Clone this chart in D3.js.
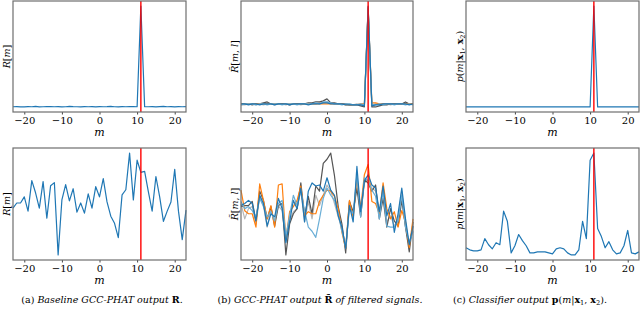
<!DOCTYPE html>
<html>
<head>
<meta charset="utf-8">
<script src="https://cdn.jsdelivr.net/npm/d3@7"></script>
<style>
body { margin: 0; background: #fff; }
svg { display: block; }
</style>
</head>
<body>
<div id="chart"></div>
<script>
'use strict';

// lag axis (samples)
var lags = [-23, -22, -21, -20, -19, -18, -17, -16, -15, -14, -13, -12, -11, -10, -9, -8,
    -7, -6, -5, -4, -3, -2, -1, 0, 1, 2, 3, 4, 5, 6, 7, 8, 9, 10, 11, 12, 13, 14, 15, 16,
    17, 18, 19, 20, 21, 22, 23];
var xTicks = [-20, -10, 0, 10, 20];
var trueLag = 11;

// (a) baseline GCC-PHAT, clean and noisy
var baseClean = [.010, .012, .008, .009, .011, .010, .013, .009, .010, .012, .011, .010, .012,
    .009, .010, .013, .011, .010, .009, .012, .010, .011, .009, .012, .010, .011, .013, .010,
    .009, .011, .010, .012, .011, .010, 1.0, .011, .010, .012, .009, .011, .013, .010, .012,
    .009, .011, .010, .011];
var baseNoisy = [.46, .51, .51, .57, .43, .73, .61, .46, .72, .36, .68, .71, .00, .54, .69,
    .53, .65, .42, .51, .41, .60, .46, .67, .57, .75, .52, .38, .31, .17, .59, .64, 1.00, .54,
    .93, .81, .82, .62, .43, .77, .57, .33, .43, .52, .84, .43, .15, .44];

// (b) GCC-PHAT of filtered signals, clean
var filtCleanA = [.03, .03, .02, .03, .03, .02, .03, .03, .03, .02, .03, .03, .03, .02, .03,
    .03, .03, .03, .02, .03, .03, .03, .04, .04, .03, .03, .03, .03, .02, .02, .02, .02, .02,
    .01, 1.0, .01, .02, .02, .03, .03, .03, .03, .03, .03, .03, .02, .03];
var filtCleanB = [.02, .03, .03, .03, .02, .03, .03, .02, .03, .03, .03, .02, .03, .03, .03,
    .02, .03, .03, .03, .03, .04, .03, .05, .05, .04, .03, .03, .02, .03, .03, .02, .02, .03,
    .02, .99, .02, .02, .03, .02, .03, .03, .02, .03, .03, .02, .03, .02];
var filtCleanC = [.03, .03, .03, .03, .03, .03, .03, .03, .03, .03, .03, .03, .03, .03, .03,
    .03, .03, .03, .03, .03, .03, .03, .03, .03, .03, .03, .03, .03, .02, .02, .02, .02, .03,
    .03, .98, .04, .04, .03, .03, .03, .03, .03, .03, .03, .03, .03, .03];
var filtCleanD = [.03, .03, .03, .02, .03, .03, .04, .05, .03, .03, .03, .03, .03, .02, .03,
    .03, .03, .03, .04, .04, .05, .05, .06, .08, .04, .04, .03, .03, .03, .02, .02, .02, .01,
    .00, .97, .00, .00, .01, .02, .02, .03, .03, .03, .03, .05, .03, .03];
var filtCleanE = [.02, .02, .03, .03, .02, .03, .02, .03, .03, .02, .03, .03, .02, .03, .03,
    .03, .02, .03, .03, .03, .03, .04, .04, .05, .04, .03, .03, .03, .03, .03, .02, .03, .02,
    .02, .99, .02, .03, .02, .03, .03, .02, .03, .03, .03, .04, .03, .03];

// (b) GCC-PHAT of filtered signals, noisy
var filtNoisyA = [.48, .50, .53, .50, .33, .58, .50, .28, .40, .37, .55, .45, .12, .32, .53,
    .45, .65, .32, .62, .70, .67, .68, .62, .75, .63, .58, .38, .27, .06, .48, .32, .86, .42,
    .72, .78, .68, .65, .42, .67, .38, .50, .22, .40, .65, .35, .10, .28];
var filtNoisyB = [.52, .45, .47, .43, .37, .55, .47, .37, .42, .33, .50, .53, .18, .38, .58,
    .48, .62, .43, .27, .23, .17, .35, .55, .65, .58, .53, .40, .23, .08, .45, .40, .78, .37,
    .75, .72, .63, .57, .35, .62, .28, .27, .27, .33, .58, .27, .12, .23];
var filtNoisyC = [.63, .43, .40, .40, .27, .69, .53, .35, .48, .27, .68, .69, .15, .42, .47,
    .53, .67, .38, .42, .40, .40, .52, .58, .63, .62, .57, .45, .22, .06, .53, .37, .75, .45,
    .78, .88, .52, .50, .40, .70, .45, .35, .42, .27, .43, .32, .07, .35];
var filtNoisyD = [.47, .48, .48, .52, .33, .62, .53, .35, .47, .28, .48, .50, .00, .30, .40,
    .45, .70, .37, .57, .40, .67, .62, .89, .93, .99, .77, .47, .30, .02, .52, .42, .65, .37,
    .73, .70, .62, .68, .35, .55, .27, .45, .33, .28, .53, .27, .03, .32];
var filtNoisyE = [.50, .35, .45, .47, .30, .57, .48, .27, .45, .32, .48, .43, .13, .33, .42,
    .45, .63, .32, .52, .35, .58, .48, .58, .68, .62, .50, .37, .25, .07, .52, .35, .72, .38,
    .70, .73, .65, .62, .40, .63, .32, .38, .28, .35, .62, .27, .10, .28];

// (c) classifier posterior, clean and noisy
var probClean = [0, 0, 0, 0, 0, 0, 0, 0, 0, 0, 0, 0, 0, 0, 0, 0, 0, 0, 0, 0, 0, 0, 0, 0, 0,
    0, 0, 0, 0, 0, 0, 0, 0, 0, 1.0, 0, 0, 0, 0, 0, 0, 0, 0, 0, 0, 0, 0];
var probNoisy = [.07, .05, .04, .04, .05, .16, .10, .06, .12, .10, .43, .33, .02, .09, .20,
    .14, .09, .02, .02, .03, .03, .03, .02, .01, .06, .07, .06, .02, .00, .00, .05, .33, .16,
    .93, 1.00, .26, .18, .07, .13, .05, .01, .02, .09, .24, .02, .01, .03];

var blue = '#1f77b4', lightBlue = '#6aaed6', orange = '#ff7f0e',
    darkGray = '#555555', lightGray = '#b8b8b8';

var labelR = [['R', 'i'], ['[', ''], ['m', 'i'], [']', '']];
var labelRt = [['R\u0303', 'i'], ['[', ''], ['m', 'i'], [', ', ''], ['l', 'i'], [']', '']];
var labelP = [['p', 'i'], ['(', ''], ['m', 'i'], ['|', ''], ['x', 'b'], ['1', 's'],
    [', ', ''], ['x', 'b'], ['2', 's'], [')', '']];

var serif = '"DejaVu Serif", serif';
var cols = [{ left: 13, right: 186 }, { left: 241, right: 413 }, { left: 466, right: 639 }];
var rows = [{ top: 1, bottom: 112 }, { top: 148, bottom: 260 }];

var svg = d3.select('#chart').append('svg')
    .attr('width', 640)
    .attr('height', 323)
    .attr('font-family', serif);

function addParts(textSel, parts, size) {
    var prevSub = false;
    parts.forEach(function(p) {
        var t = textSel.append('tspan').text(p[0]);
        if (p[1] === 'i') t.attr('font-style', 'italic');
        if (p[1] === 'b') t.attr('font-weight', 'bold');
        if (p[1] === 's') t.attr('font-size', size * 0.7).attr('dy', size * 0.25);
        if (p[1] !== 's' && prevSub) t.attr('dy', -size * 0.25);
        prevSub = p[1] === 's';
    });
}

function drawPanel(col, row, series, ylabel) {
    var x = d3.scaleLinear().domain([-23, 23]).range([col.left, col.right]);
    var all = d3.merge(series.map(function(s) { return s.values; }));
    var lo = d3.min(all), hi = d3.max(all), pad = (hi - lo) * 0.05;
    var y = d3.scaleLinear().domain([lo - pad, hi + pad]).range([row.bottom, row.top]);

    var g = svg.append('g');
    var line = d3.line()
        .x(function(d, i) { return x(lags[i]); })
        .y(function(d) { return y(d); });

    series.forEach(function(s) {
        g.append('path')
            .attr('d', line(s.values))
            .attr('fill', 'none')
            .attr('stroke', s.color)
            .attr('stroke-width', 1.2)
            .attr('stroke-linejoin', 'round');
    });

    g.append('line')
        .attr('x1', x(trueLag)).attr('x2', x(trueLag))
        .attr('y1', row.top).attr('y2', row.bottom)
        .attr('stroke', '#ff0000')
        .attr('stroke-width', 1.4);

    var axis = d3.axisBottom(x)
        .tickValues(xTicks)
        .tickSize(2.5)
        .tickPadding(2)
        .tickFormat(function(d) { return d < 0 ? '\u2212' + (-d) : d; });
    var ax = g.append('g')
        .attr('transform', 'translate(0,' + row.bottom + ')')
        .call(axis)
        .attr('font-family', serif)
        .attr('font-size', 10);
    ax.select('.domain').remove();
    ax.selectAll('line').attr('stroke', '#444');
    ax.selectAll('text').attr('fill', '#000');

    g.append('rect')
        .attr('x', col.left).attr('y', row.top)
        .attr('width', col.right - col.left)
        .attr('height', row.bottom - row.top)
        .attr('fill', 'none')
        .attr('stroke', '#6e6e6e')
        .attr('stroke-width', 1.2);

    g.append('text')
        .attr('x', (col.left + col.right) / 2)
        .attr('y', row.bottom + 23.5)
        .attr('text-anchor', 'middle')
        .attr('font-size', 11)
        .attr('font-style', 'italic')
        .text('m');

    var yl = g.append('text')
        .attr('text-anchor', 'middle')
        .attr('font-size', 9.5)
        .attr('transform', 'translate(' + (col.left - 3) + ',' + ((row.top + row.bottom) / 2) + ') rotate(-90)');
    addParts(yl, ylabel, 9.5);
}

drawPanel(cols[0], rows[0], [{ values: baseClean, color: blue }], labelR);
drawPanel(cols[0], rows[1], [{ values: baseNoisy, color: blue }], labelR);

drawPanel(cols[1], rows[0], [
    { values: filtCleanE, color: lightGray },
    { values: filtCleanD, color: darkGray },
    { values: filtCleanC, color: orange },
    { values: filtCleanB, color: lightBlue },
    { values: filtCleanA, color: blue }
], labelRt);
drawPanel(cols[1], rows[1], [
    { values: filtNoisyE, color: lightGray },
    { values: filtNoisyD, color: darkGray },
    { values: filtNoisyC, color: orange },
    { values: filtNoisyB, color: lightBlue },
    { values: filtNoisyA, color: blue }
], labelRt);

drawPanel(cols[2], rows[0], [{ values: probClean, color: blue }], labelP);
drawPanel(cols[2], rows[1], [{ values: probNoisy, color: blue }], labelP);

// sub-figure captions
var captions = [
    { cx: 102, parts: [['(a) ', ''], ['Baseline GCC-PHAT output ', 'i'], ['R', 'b'], ['.', '']] },
    { cx: 320, parts: [['(b) ', ''], ['GCC-PHAT output ', 'i'], ['R\u0303', 'b'], [' of filtered signals.', 'i']] },
    { cx: 530, parts: [['(c) ', ''], ['Classifier output ', 'i'], ['p', 'b'], ['(', ''], ['m', 'i'],
        ['|', ''], ['x', 'b'], ['1', 's'], [', ', ''], ['x', 'b'], ['2', 's'], [').', '']] }
];
captions.forEach(function(c) {
    var t = svg.append('text')
        .attr('x', c.cx)
        .attr('y', 303)
        .attr('text-anchor', 'middle')
        .attr('font-size', 9.5);
    addParts(t, c.parts, 9.5);
});
</script>
</body>
</html>
